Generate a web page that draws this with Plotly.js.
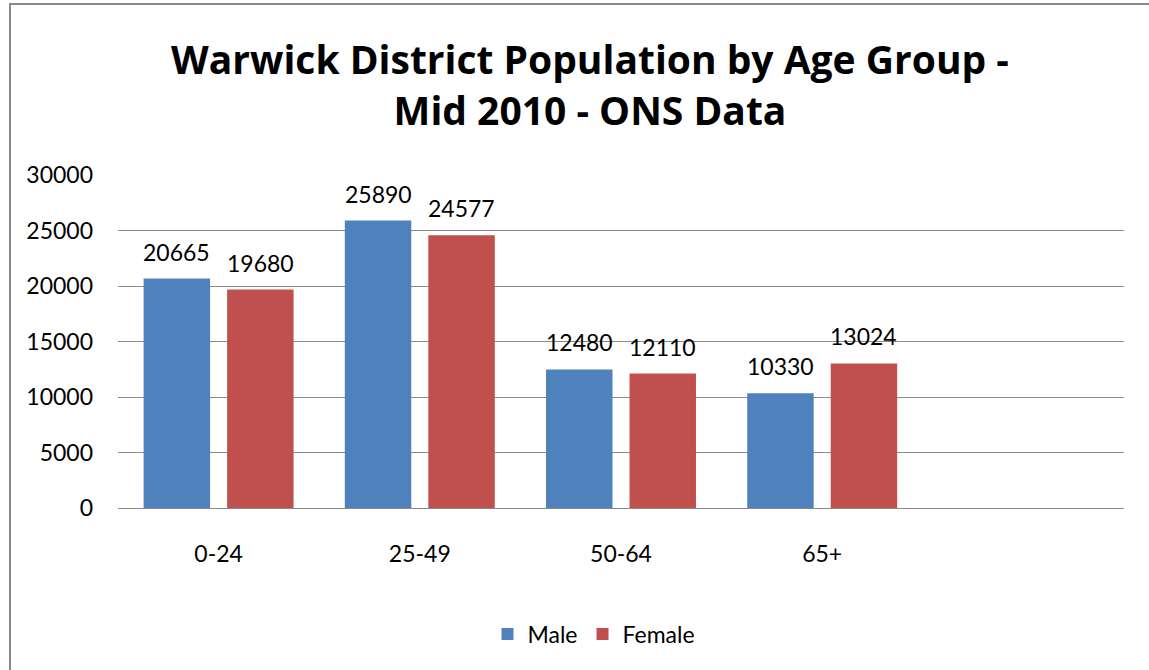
<!DOCTYPE html>
<html>
<head>
<meta charset="utf-8">
<script src="https://cdn.plot.ly/plotly-3.0.1.min.js"></script>
<style>
  html, body { margin: 0; padding: 0; background: #fff; overflow: hidden; }
  #frame { position: absolute; left: 9px; top: 3px; width: 1300px; height: 800px; border-left: 2px solid #8a8a8a; border-top: 2px solid #8a8a8a; }
  #chart { position: absolute; left: 0; top: 0; width: 1149px; height: 670px; }
</style>
</head>
<body>
<div id="frame"></div>
<div id="chart"></div>
<script>
const categories = ["0-24", "25-49", "50-64", "65+", " "];
const maleValues = [20665, 25890, 12480, 10330, null];
const femaleValues = [19680, 24577, 12110, 13024, null];
const yTicks = [0, 5000, 10000, 15000, 20000, 25000, 30000];

const FONT = "Lato, 'Open Sans', sans-serif";
const TITLE_FONT = "'Open Sans', Lato, sans-serif";
const BARGAP = 0.17, BARGROUPGAP = 0.204;
const half = (1 - BARGAP) / 4; // offset of each bar centre within a group

const traces = [
  { type: "bar", name: "Male", x: categories, y: maleValues, marker: { color: "#4F81BD" } },
  { type: "bar", name: "Female", x: categories, y: femaleValues, marker: { color: "#C0504D" } }
];

const annotations = [];
[[maleValues, -half], [femaleValues, half]].forEach(([vals, off]) => {
  vals.forEach((v, i) => {
    if (v == null) return;
    annotations.push({
      xref: "x", yref: "y", x: i + off, y: v, text: String(v),
      showarrow: false, yanchor: "bottom", xanchor: "center", yshift: 11,
      font: { family: FONT, size: 23, color: "#000" }
    });
  });
});

const layout = {
  width: 1149, height: 670,
  paper_bgcolor: "rgba(0,0,0,0)", plot_bgcolor: "rgba(0,0,0,0)",
  margin: { l: 118, r: 25, t: 175, b: 162 },
  font: { family: FONT, size: 23, color: "#000" },
  title: {
    text: "<b>Warwick District Population by Age Group -<br>Mid 2010 - ONS Data</b>",
    font: { family: TITLE_FONT, size: 39, color: "#000" },
    xref: "container", x: 590 / 1149, xanchor: "center",
    yref: "container", y: 1 - 74 / 670, yanchor: "middle"
  },
  barmode: "group", bargap: BARGAP, bargroupgap: BARGROUPGAP,
  annotations: annotations,
  xaxis: {
    type: "category", range: [-0.5, 4.5],
    showgrid: false, showline: true, linecolor: "#8c8c8c", linewidth: 1,
    ticks: "", ticklabelstandoff: 25,
    tickfont: { family: FONT, size: 23, color: "#000" }
  },
  yaxis: {
    range: [0, 30000], tickvals: yTicks, ticktext: yTicks.map(String),
    showgrid: true, gridcolor: "#8c8c8c", gridwidth: 1,
    zeroline: false, showline: false, ticks: "", ticklabelstandoff: 24,
    tickfont: { family: FONT, size: 23, color: "#000" }
  },
  showlegend: true,
  legend: {
    orientation: "h", xref: "container", x: 594 / 1149, xanchor: "center",
    yref: "container", y: 1 - 634 / 670, yanchor: "middle",
    font: { family: FONT, size: 23, color: "#000" },
    itemwidth: 30, tracegroupgap: 0
  }
};

Plotly.newPlot("chart", traces, layout, { staticPlot: true, displayModeBar: false });
</script>
</body>
</html>
